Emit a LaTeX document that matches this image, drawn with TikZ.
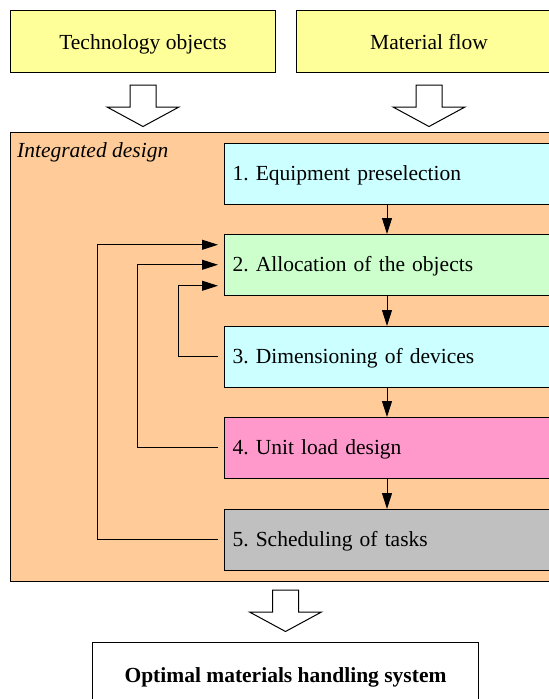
\documentclass[tikz,border=0pt]{standalone}
\usepackage{fontspec}
\setmainfont{Liberation Serif}
\usetikzlibrary{arrows.meta}
\definecolor{cyellow}{HTML}{FFFF99}
\definecolor{corange}{HTML}{FFCC99}
\definecolor{ccyan}{HTML}{CCFFFF}
\definecolor{cgreen}{HTML}{CCFFCC}
\definecolor{cpink}{HTML}{FF99CC}
\definecolor{cgray}{HTML}{C0C0C0}
\tikzset{
  box/.style={draw=black, line width=1pt, rectangle, anchor=north west,
    font=\fontsize{21.5}{26}\selectfont, inner xsep=8pt, inner ysep=0pt},
  stepbox/.style={box, minimum width=340pt, minimum height=60.5pt,
    text width=324pt, align=left, text height=14pt, text depth=0pt},
  flow/.style={-{Triangle[length=16pt,width=10pt]}, line width=1pt},
  hollow/.style={draw=black, fill=white, line width=1pt, line join=miter},
  harrow/.pic={\draw[hollow] (-13,0) -- (13,0) -- (13,22) -- (36,22) -- (0,41.5)
      -- (-36,22) -- (-13,22) -- cycle;}
}
\begin{document}
\frenchspacing
\begin{tikzpicture}[x=1pt,y=-1pt]
\useasboundingbox (0,0) rectangle (549,699);
% inputs
\node[box, fill=cyellow, minimum width=265pt, minimum height=62pt,
  text height=16pt, text depth=0pt, inner xsep=0pt] (t1) at (10,10) {Technology objects};
\node[box, fill=cyellow, minimum width=265pt, minimum height=62pt,
  text height=16pt, text depth=0pt, inner xsep=0pt] (t2) at (296,10) {Material flow};
\pic at ([yshift=-12pt]t1.south) {harrow};
\pic at ([yshift=-12pt]t2.south) {harrow};
% integrated design
\node[box, fill=corange, minimum width=560pt, minimum height=449.5pt] (ig) at (10,131.5) {};
\node[font=\fontsize{21.5}{26}\selectfont\itshape, anchor=base west, inner sep=0pt]
  (igt) at (17,157) {Integrated design};
\node[stepbox, fill=ccyan] (s1) at (224,143) {1. Equipment preselection};
\node[stepbox, fill=cgreen] (s2) at (224,234) {2. Allocation of the objects};
\node[stepbox, fill=ccyan] (s3) at (224,326) {3. Dimensioning of devices};
\node[stepbox, fill=cpink] (s4) at (224,417) {4. Unit load design};
\node[stepbox, fill=cgray] (s5) at (224,509) {5. Scheduling of tasks};
\draw[flow] ([xshift=163pt]s1.south west) -- ([xshift=163pt]s2.north west);
\draw[flow] ([xshift=163pt]s2.south west) -- ([xshift=163pt]s3.north west);
\draw[flow] ([xshift=163pt]s3.south west) -- ([xshift=163pt]s4.north west);
\draw[flow] ([xshift=163pt]s4.south west) -- ([xshift=163pt]s5.north west);
% feedback
\draw[flow] ([xshift=-6pt]s3.west) -| ([xshift=-46pt,yshift=-21pt]s2.west) -- ([xshift=-6pt,yshift=-21pt]s2.west);
\draw[flow] ([xshift=-6pt]s4.west) -| ([xshift=-87pt]s2.west) -- ([xshift=-6pt]s2.west);
\draw[flow] ([xshift=-6pt]s5.west) -| ([xshift=-127pt,yshift=20pt]s2.west) -- ([xshift=-6pt,yshift=20pt]s2.west);
% result
\node[box, fill=white, minimum width=386pt, minimum height=66pt, inner xsep=0pt,
  text height=14pt, text depth=0pt, font=\fontsize{21.5}{26}\selectfont\bfseries] (res) at (92,642)
  {Optimal materials handling system};
\pic at ([yshift=52pt]res.north) {harrow};
\end{tikzpicture}
\end{document}
